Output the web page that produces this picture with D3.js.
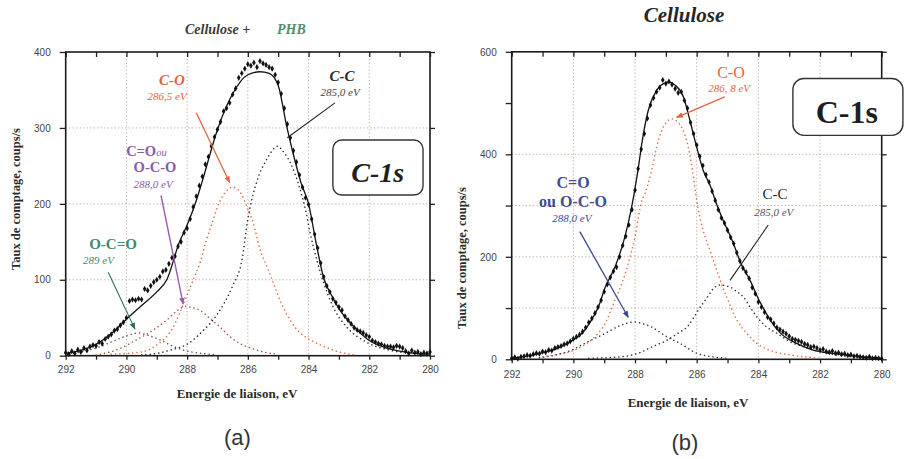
<!DOCTYPE html>
<html>
<head>
<meta charset="utf-8">
<script src="https://cdn.jsdelivr.net/npm/d3@7"></script>
<style>
  html, body { margin: 0; padding: 0; background: #fff; }
  svg { display: block; }
</style>
</head>
<body>
<svg id="chart" width="905" height="459"></svg>
<script>
// ---------- Energy axis ----------
const xMinorTicks = [292, 291, 290, 289, 288, 287, 286, 285, 284, 283, 282, 281, 280];
const xTickLabels = [292, 290, 288, 286, 284, 282, 280];

// ---------- Panel (a) : Cellulose + PHB ----------
const yTicksA = [0, 100, 200, 300, 400];
const gridA = [100, 200, 300];
// measured counts, 292.0 -> 280.0 eV in 0.1 eV steps
const countsA = [
  4, 2, 6, 3, 8, 5, 10, 7, 12, 14,
  13, 18, 16, 22, 25, 28, 33, 35, 40, 44,
  50, 72, 74, 73, 75, 74, 88, 86, 92, 97,
  100, 104, 111, 113, 121, 129, 131, 144, 150, 162,
  168, 180, 196, 210, 224, 236, 252, 262, 276, 288,
  298, 308, 322, 326, 333, 344, 352, 366, 372, 378,
  384, 382, 386, 380, 388, 385, 383, 380, 378, 370,
  360, 345, 326, 305, 287, 270, 255, 238, 222, 208,
  199, 180, 160, 142, 122, 104, 92, 84, 75, 70,
  64, 60, 52, 47, 42, 37, 34, 32, 30, 27,
  25, 20, 18, 16, 15, 13, 12, 12, 11, 13,
  12, 10, 6, 3, 7, 4, 5, 2, 4, 3, 5
];
// fitted envelope [eV, counts]
const fitA = [[292,3],[291.5,7],[291,15],[290.5,29],[290,48],[289.5,66],[289,84],[288.67,100],[288.25,150],[288,172],[287.7,204],[287.5,230],[287,298],[286.5,345],[286,370],[285.6,374],[285.3,372],[285,356],[284.72,302],[284.5,265],[284.25,228],[284,200],[283.75,148],[283.5,102],[283.25,80],[283,62],[282.5,38],[282,20],[281.5,11],[281,6],[280.5,3],[280,2]];
// fitted components
const ccA = [[289.5,1],[289,3],[288.5,8],[288,15],[287.5,32],[287,55],[286.5,92],[286.2,125],[286,180],[285.7,230],[285.4,257],[285,276],[284.9,272],[284.6,254],[284.3,222],[284.1,192],[283.95,162],[283.7,122],[283.5,96],[283.2,65],[282.75,38],[282.1,18],[281.3,7],[280.5,3],[280,2]];
const coA = [[290.5,2],[289.5,5],[289,14],[288.5,35],[288,80],[287.8,100],[287.58,122],[287.36,153],[287.14,179],[287,196],[286.8,212],[286.5,222],[286.2,212],[286.04,197],[285.82,175],[285.6,140],[285.38,118],[285.16,96],[284.94,73],[284.61,47],[284.28,30],[283.95,21],[283.6,14],[283,5],[282.4,1]];
const coOcoA = [[291,1],[290.3,8],[289.66,21],[289.11,34],[288.67,47],[288.3,60],[288.05,65],[287.8,63],[287.58,60],[287.25,49],[286.92,38],[286.59,25],[286.26,16],[285.9,10],[285.5,5],[285,2]];
const ocoA = [[292,1],[291.5,5],[291,10],[290.5,18],[290,26],[289.6,30],[289.3,27],[288.9,21],[288.5,13],[288,6],[287.5,3],[287,1]];

// ---------- Panel (b) : Cellulose ----------
const yTicksB = [0, 100, 200, 300, 400, 500, 600];
const yLabelsB = [0, 200, 400, 600];
const gridB = [100, 200, 300, 400];
const countsB = [
  2, 4, 1, 5, 6, 8, 7, 10, 12, 11,
  15, 14, 18, 17, 22, 24, 26, 29, 31, 35,
  40, 44, 48, 54, 62, 72, 80, 90, 102, 115,
  132, 146, 160, 172, 180, 200, 222, 240, 262, 292,
  330, 372, 410, 440, 470, 496, 510, 522, 530, 545,
  538, 542, 536, 528, 520, 522, 505, 490, 462, 440,
  418, 396, 378, 360, 346, 328, 310, 292, 276, 266,
  252, 238, 226, 208, 192, 178, 170, 158, 140, 128,
  112, 102, 92, 82, 78, 70, 62, 58, 54, 50,
  45, 40, 38, 36, 34, 30, 28, 24, 25, 22,
  18, 20, 15, 14, 16, 12, 13, 10, 11, 8,
  9, 6, 7, 5, 4, 3, 5, 2, 3, 2, 1
];
const fitB = [[292,2],[291.5,6],[291,13],[290.5,22],[290,38],[289.8,46],[289.41,77],[289.19,102],[288.97,140],[288.65,180],[288.33,239],[288.11,297],[287.89,375],[287.78,421],[287.57,486],[287.3,525],[287,540],[286.9,541],[286.7,535],[286.43,512],[286.22,466],[286,414],[285.79,369],[285.57,340],[285.35,302],[285.14,271],[284.81,226],[284.6,192],[284.27,154],[283.95,112],[283.62,77],[283.3,52],[282.76,31],[282.22,18],[281.67,12],[281.1,8],[280.5,4],[280,2]];
const coB = [[291,5],[290.5,10],[290,17],[289.73,25],[289.3,44],[288.97,70],[288.65,116],[288.43,148],[288.22,187],[288,239],[287.78,310],[287.68,323],[287.46,369],[287.3,414],[287.13,447],[286.81,469],[286.49,453],[286.32,425],[286.14,370],[286,310],[285.79,252],[285.57,213],[285.35,174],[285.03,122],[284.7,77],[284.38,51],[284.05,31],[283.5,15],[282.9,8],[282.5,5],[282,2]];
const ccB = [[289.5,2],[289,3],[288.3,6],[287.8,14],[287.46,24],[287,36],[286.6,51],[286.27,66],[286.11,80],[285.95,96],[285.68,119],[285.46,138],[285.24,145],[284.92,141],[284.7,132],[284.49,122],[284.27,102],[284.05,83],[283.73,63],[283.4,51],[282.97,34],[282.54,25],[282,15],[281.4,8],[280.75,4],[280,2]];
const coOcoB = [[291.1,3],[290.6,8],[290.05,18],[289.73,28],[289.4,38],[289.08,47],[288.43,67],[288,73],[287.78,70],[287.5,64],[286.97,44],[286.54,31],[286,12],[285.5,5],[285,2]];

const scanEnergies = d3.range(0, 121).map(i => +(292 - i * 0.1).toFixed(1));

// ---------- Drawing ----------
const svg = d3.select("#chart");
const SERIF = "'Liberation Serif', 'Times New Roman', serif";
const SANS = "'Liberation Sans', Arial, sans-serif";
const ORANGE = "#e2643c";

const defs = svg.append("defs");
function arrowMarker(id, color) {
  defs.append("marker")
    .attr("id", id).attr("viewBox", "0 0 10 10")
    .attr("refX", 9).attr("refY", 5)
    .attr("markerWidth", 7).attr("markerHeight", 7)
    .attr("markerUnits", "userSpaceOnUse")
    .attr("orient", "auto")
    .append("path").attr("d", "M0,1 L10,5 L0,9 z").attr("fill", color);
}
arrowMarker("arOrange", ORANGE);
arrowMarker("arPurple", "#9a5db0");
arrowMarker("arGreen", "#2f6e55");
arrowMarker("arNavy", "#3b4690");

function drawPanel(p) {
  const x = d3.scaleLinear().domain([292, 280]).range([p.left, p.right]);
  const y = d3.scaleLinear().domain([0, p.ymax]).range([p.bottom, p.top]);
  const g = svg.append("g");

  // dotted grid
  g.selectAll(".vg").data(xTickLabels.filter(d => d !== 292 && d !== 280)).join("line")
    .attr("x1", d => x(d)).attr("x2", d => x(d))
    .attr("y1", p.top).attr("y2", p.bottom)
    .attr("stroke", "#c6ada2").attr("stroke-width", 1).attr("stroke-dasharray", "1.3,2.2");
  g.selectAll(".hg").data(p.grid).join("line")
    .attr("x1", p.left).attr("x2", p.right)
    .attr("y1", d => y(d)).attr("y2", d => y(d))
    .attr("stroke", "#c6ada2").attr("stroke-width", 1).attr("stroke-dasharray", "1.3,2.2");

  // axes
  const styleAxis = sel => {
    sel.select(".domain").remove();
    sel.selectAll(".tick line").attr("stroke", "#222").attr("stroke-width", 1.3);
    sel.selectAll(".tick text").attr("font-family", SANS).attr("font-size", 10).attr("fill", "#444");
  };
  g.append("g").attr("transform", `translate(0,${p.bottom})`)
    .call(d3.axisBottom(x).tickValues(xMinorTicks).tickSize(4).tickPadding(p.xPad)
      .tickFormat(d => xTickLabels.includes(d) ? d : ""))
    .call(styleAxis);
  g.append("g").attr("transform", `translate(0,${p.top})`)
    .call(d3.axisBottom(x).tickValues(xMinorTicks).tickSize(5).tickFormat(""))
    .call(styleAxis);
  g.append("g").attr("transform", `translate(${p.left},0)`)
    .call(d3.axisLeft(y).tickValues(p.yTicks).tickSize(6).tickPadding(9)
      .tickFormat(d => p.yLabels.includes(d) ? d : ""))
    .call(styleAxis);
  g.append("g").attr("transform", `translate(${p.right},0)`)
    .call(d3.axisRight(y).tickValues(p.yTicks).tickSize(5).tickFormat(""))
    .call(styleAxis);

  // frame
  g.append("rect").attr("x", p.left).attr("y", p.top)
    .attr("width", p.right - p.left).attr("height", p.bottom - p.top)
    .attr("fill", "none").attr("stroke", "#1a1a1a").attr("stroke-width", 1.6);

  const line = d3.line().x(d => x(d[0])).y(d => y(d[1])).curve(d3.curveMonotoneX);

  // components (dotted)
  p.components.forEach(c => {
    g.append("path").datum(c.data).attr("d", line)
      .attr("fill", "none").attr("stroke", c.color).attr("stroke-width", 1.5)
      .attr("stroke-linecap", "round").attr("stroke-dasharray", "0.1,4.2");
  });

  // measured points
  const sym = d3.symbol(d3.symbolDiamond, 11);
  g.selectAll(".pt").data(p.counts).join("path")
    .attr("d", sym)
    .attr("transform", (d, i) => `translate(${x(scanEnergies[i])},${y(d)})`)
    .attr("fill", "#111");

  // fitted envelope
  g.append("path").datum(p.fit).attr("d", line)
    .attr("fill", "none").attr("stroke", "#111").attr("stroke-width", 1.3);

  // annotation helpers in data units
  const txt = (e, v, s, o) => g.append("text").attr("x", x(e)).attr("y", y(v))
      .attr("font-family", o.family || SERIF).attr("font-size", o.size)
      .attr("font-weight", o.weight || "normal").attr("font-style", o.italic ? "italic" : "normal")
      .attr("fill", o.color).attr("text-anchor", o.anchor || "middle").text(s);
  const arrow = (a, b, color, marker, w) => {
    g.append("line").attr("x1", x(a[0])).attr("y1", y(a[1]))
      .attr("x2", x(b[0])).attr("y2", y(b[1]))
      .attr("stroke", color).attr("stroke-width", w || 1.2)
      .attr("marker-end", marker ? `url(#${marker})` : null);
  };
  p.annotate(txt, arrow, x, y, g);
}

drawPanel({
  left: 65.7, right: 430, top: 52, bottom: 355.7, ymax: 400,
  yTicks: yTicksA, yLabels: yTicksA, grid: gridA, xPad: 6,
  counts: countsA, fit: fitA,
  components: [
    { data: ocoA, color: "#5c4d4a" },
    { data: coOcoA, color: "#a5503e" },
    { data: coA, color: "#d9693f" },
    { data: ccA, color: "#2a2a2a" }
  ],
  annotate: (txt, arrow, x, y, g) => {
    txt(288.5, 357, "C-O", { size: 15, weight: "bold", italic: true, color: ORANGE });
    txt(288.66, 337, "286,5 eV", { size: 11, italic: true, color: ORANGE });
    arrow([287.7, 320], [286.6, 228], ORANGE, "arOrange", 1.3);

    txt(282.9, 362, "C-C", { size: 15, weight: "bold", italic: true, color: "#2b2b2b" });
    txt(282.96, 342, "285,0 eV", { size: 11, italic: true, color: "#444" });
    arrow([283.13, 333], [284.7, 287], "#222", null, 1.1);

    // "C=O" followed by a small italic "ou"
    txt(289.02, 263, "C=O", { size: 14.5, weight: "bold", color: "#8d5aa6", anchor: "end" });
    txt(289.02, 263, "ou", { size: 10.5, italic: true, color: "#8d5aa6", anchor: "start" });
    txt(289.06, 242, "O-C-O", { size: 14.5, weight: "bold", color: "#8d5aa6" });
    txt(289.12, 221, "288,0 eV", { size: 11, italic: true, color: "#8d5aa6" });
    arrow([288.86, 211], [288.13, 68], "#9a5db0", "arPurple", 1.4);

    txt(290.44, 140.5, "O-C=O", { size: 15, weight: "bold", color: "#3f8a76" });
    txt(291.43, 121, "289 eV", { size: 11, italic: true, color: "#3f8a76", anchor: "start" });
    arrow([290.6, 110], [289.72, 35], "#2f6e55", "arGreen", 1.1);

    g.append("rect").attr("x", x(283.2)).attr("y", y(284))
      .attr("width", x(280.23) - x(283.2)).attr("height", y(211.6) - y(284))
      .attr("rx", 9).attr("fill", "#fff").attr("stroke", "#333").attr("stroke-width", 1.4);
    txt(281.72, 229, "C-1s", { size: 28, weight: "bold", italic: true, color: "#1f1f1f" });
  }
});

drawPanel({
  left: 511.7, right: 881.7, top: 51.8, bottom: 359.3, ymax: 600,
  yTicks: yTicksB, yLabels: yLabelsB, grid: gridB, xPad: 8,
  counts: countsB, fit: fitB,
  components: [
    { data: coOcoB, color: "#2e2e2e" },
    { data: ccB, color: "#2e2e2e" },
    { data: coB, color: "#d9693f" }
  ],
  annotate: (txt, arrow, x, y, g) => {
    txt(284.89, 549, "C-O", { size: 16, color: ORANGE });
    txt(284.95, 521, "286, 8 eV", { size: 11, italic: true, color: ORANGE });
    arrow([285.09, 512], [286.65, 472], ORANGE, "arOrange", 1.3);

    g.append("rect").attr("x", x(282.88)).attr("y", y(548))
      .attr("width", 110).attr("height", y(437) - y(548))
      .attr("rx", 11).attr("fill", "#fff").attr("stroke", "#333").attr("stroke-width", 1.4);
    txt(281.13, 462, "C-1s", { size: 32, weight: "bold", color: "#1f1f1f" });

    txt(290.01, 334, "C=O", { size: 16, weight: "bold", color: "#454a94" });
    txt(290.01, 297, "ou O-C-O", { size: 16, weight: "bold", color: "#454a94" });
    txt(290.05, 268, "288,0 eV", { size: 11, italic: true, color: "#454a94" });
    arrow([289.79, 249], [288.22, 82], "#3b4690", "arNavy", 1.3);

    txt(283.46, 312, "C-C", { size: 15, color: "#2b2b2b" });
    txt(283.5, 279, "285,0 eV", { size: 11, italic: true, color: "#555" });
    arrow([283.68, 262], [284.92, 154], "#222", null, 1.1);
  }
});

// ---------- Titles and axis labels ----------
const lab = (px, py, s, o) => svg.append("text")
  .attr("x", px).attr("y", py).attr("text-anchor", o.anchor || "middle")
  .attr("font-family", o.family || SERIF).attr("font-size", o.size)
  .attr("font-weight", o.weight || "normal").attr("font-style", o.italic ? "italic" : "normal")
  .attr("fill", o.color || "#222")
  .attr("transform", o.rotate ? `rotate(-90,${px},${py})` : null)
  .text(s);

lab(185, 34, "Cellulose +", { size: 14, italic: true, weight: "bold", color: "#3a3a3a", anchor: "start" });
lab(277, 34, "PHB", { size: 14, italic: true, weight: "bold", color: "#4f8f6a", anchor: "start" });

lab(684, 22, "Cellulose", { size: 21, italic: true, weight: "bold", color: "#262626" });

lab(20, 199, "Taux de comptage, coups/s", { size: 12.5, weight: "bold", rotate: true, color: "#2a2a2a" });
lab(466, 258, "Taux de comptage, coups/s", { size: 12.5, weight: "bold", rotate: true, color: "#2a2a2a" });

lab(237, 398, "Energie de liaison, eV", { size: 13, weight: "bold", color: "#2a2a2a" });
lab(688, 407, "Energie de liaison, eV", { size: 13, weight: "bold", color: "#2a2a2a" });

lab(237.5, 445, "(a)", { size: 22, family: SANS, color: "#333" });
lab(685, 450, "(b)", { size: 22, family: SANS, color: "#333" });
</script>
</body>
</html>
